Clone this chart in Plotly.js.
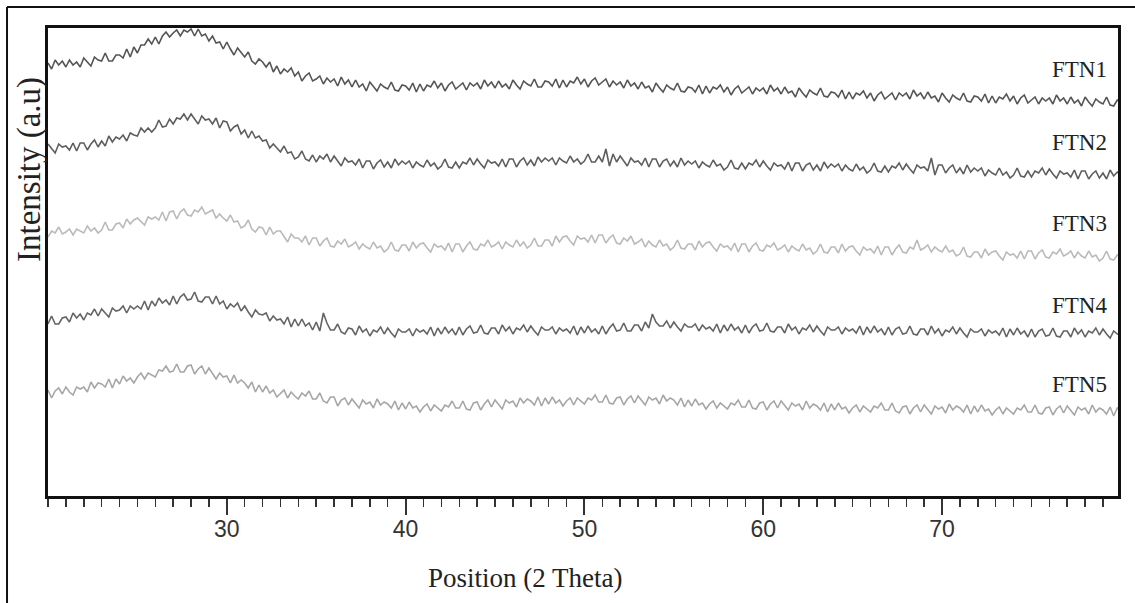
<!DOCTYPE html>
<html>
<head>
<meta charset="utf-8">
<script src="https://cdn.plot.ly/plotly-3.0.1.min.js"></script>
<style>
  html, body { margin: 0; padding: 0; background: #ffffff; }
  #chart { width: 1135px; height: 603px; }
</style>
</head>
<body>
<div id="chart"></div>
<script>
// 2-theta sampling grid (degrees)
const thetaStart = 20;
const thetaStep = 0.2;

const seriesNames = ["FTN1", "FTN2", "FTN3", "FTN4", "FTN5"];
const seriesColors = ["#555555", "#5e5e5e", "#bababa", "#646464", "#a6a6a6"];
const tickValues = [30, 40, 50, 60, 70];

// Intensity (a.u., stacked offsets); one row per degree (x.0, x.2, x.4, x.6, x.8)
const ftn1 = [
433,427,436,431,435, 429,436,431,434,429, 438,434,430,439,436, 435,443,435,435,441,
441,438,447,439,449, 443,451,451,457,452, 459,452,460,464,459, 463,466,460,466,464,
467,460,467,460,462, 455,460,453,454,447, 454,447,441,448,443, 439,444,435,432,437,
434,429,434,424,430, 422,427,424,428,420, 424,415,420,423,415, 417,420,412,418,414,
417,410,419,412,416, 409,416,409,412,405, 414,409,405,412,409, 407,414,406,405,411,
410,406,413,404,412, 405,411,409,415,408, 413,405,411,414,407, 410,413,406,413,410,
413,407,416,410,414, 408,415,409,412,407, 416,411,407,415,412, 410,417,409,409,415,
414,410,417,408,416, 409,415,413,419,412, 417,409,415,418,411, 414,417,409,415,411,
414,408,416,410,413, 407,414,408,410,404, 413,408,404,411,408, 406,413,405,404,409,
408,404,411,402,410, 403,409,407,411,404, 409,401,407,410,403, 406,409,402,408,405,
408,402,411,405,408, 402,409,403,405,399, 408,403,399,406,403, 401,408,400,399,404,
403,399,406,397,404, 397,403,401,405,398, 403,395,401,404,397, 400,403,396,403,400,
403,397,406,400,403, 397,404,398,400,394, 403,398,394,401,398, 396,403,395,394,400,
399,395,402,393,400, 393,399,397,402,395, 400,392,398,401,393, 396,399,392,398,395,
398,392,401,395,398, 392,399,393,396,390, 399,394,390,397,394, 392,399,391,390,396,
394];
const ftn2 = [
352,347,343,352,349, 350,346,353,345,353, 353,346,352,356,349, 355,350,360,354,359,
357,361,355,363,361, 360,368,364,368,364, 368,376,369,370,377, 372,378,377,382,376,
382,377,372,380,376, 377,372,378,368,375, 374,365,369,371,362, 366,358,365,358,360,
355,356,348,352,348, 344,350,343,344,337, 339,345,337,335,341, 334,340,337,342,334,
340,335,330,338,334, 335,331,337,328,335, 335,327,333,336,329, 334,328,337,331,335,
332,335,328,334,331, 329,336,330,333,327, 330,337,329,328,334, 328,334,332,338,331,
337,332,328,336,333, 334,330,337,329,337, 337,329,335,338,331, 336,330,339,334,338,
335,338,331,338,335, 333,340,334,337,332, 335,342,334,334,340, 334,347,330,342,334,
340,335,330,338,334, 335,331,338,329,337, 337,329,335,337,330, 335,329,338,331,335,
332,335,328,334,331, 329,336,330,332,326, 329,336,328,327,333, 327,333,331,336,329,
335,330,326,333,330, 331,327,334,325,333, 333,325,331,333,326, 331,325,334,328,332,
329,332,325,331,327, 325,332,326,329,323, 326,333,325,324,330, 324,330,328,333,326,
332,327,323,331,328, 329,325,338,321,331, 331,323,328,331,323, 328,322,331,324,328,
325,328,320,326,323, 321,328,321,324,318, 321,328,320,319,325, 319,325,323,328,321,
327,322,318,325,322, 323,319,326,317,325, 325,317,322,325,318, 323,317,326,320,324,
321];
const ftn3 = [
259,265,263,269,262, 264,267,261,267,265, 263,270,265,268,263, 266,274,266,266,272,
273,268,277,272,276, 278,274,271,279,277, 279,276,284,275,284, 285,277,284,287,281,
280,286,284,289,282, 284,286,278,282,278, 275,281,274,275,268, 270,276,267,264,269,
268,261,269,262,265, 265,259,254,262,258, 258,254,260,251,258, 258,250,255,258,250,
249,255,252,257,249, 251,254,247,252,249, 247,254,248,250,244, 247,254,246,245,251,
251,245,254,248,252, 253,248,244,252,249, 250,246,253,244,252, 252,244,250,254,247,
246,252,250,256,249, 251,254,247,254,251, 249,256,250,254,248, 251,258,250,250,256,
256,250,260,254,259, 260,255,251,260,257, 258,254,261,253,261, 261,253,258,261,253,
252,258,255,260,252, 254,257,249,255,251, 249,256,250,252,246, 249,256,248,247,252,
252,246,255,249,253, 254,249,245,252,249, 250,246,253,244,252, 252,244,250,253,246,
245,251,249,253,246, 248,251,244,250,247, 245,252,246,248,242, 245,252,244,243,249,
249,243,252,245,249, 250,245,241,249,246, 247,243,250,241,249, 249,241,247,251,244,
243,249,247,256,246, 248,251,244,249,246, 244,250,244,246,240, 242,249,240,239,244,
244,238,247,241,244, 245,240,236,244,241, 242,238,245,237,245, 245,237,243,246,239,
238,244,242,247,240, 242,245,238,244,240, 238,245,239,241,235, 238,245,237,236,241,
239];
const ftn4 = [
172,180,172,172,178, 179,174,183,178,182, 176,183,181,187,180, 187,183,179,188,185,
186,190,183,190,187, 190,187,195,186,195, 190,198,193,196,191, 200,192,199,202,196,
197,204,195,194,199, 199,192,200,192,195, 187,192,189,193,185, 190,184,179,186,182,
181,183,175,180,176, 177,172,179,169,177, 170,177,170,173,166, 174,165,183,173,166,
166,172,164,162,168, 167,161,170,164,167, 160,166,164,169,162, 168,163,159,167,164,
164,167,160,167,164, 166,162,169,160,168, 162,169,163,167,161, 169,161,167,170,163,
164,171,163,162,168, 168,162,171,165,169, 162,168,166,171,164, 170,165,161,169,166,
166,169,162,168,165, 167,163,170,161,169, 163,170,164,167,162, 170,162,168,172,165,
166,173,165,165,171, 171,165,174,168,182, 174,170,170,175,168, 174,169,165,172,169,
169,172,165,171,167, 169,165,172,163,171, 165,172,166,169,163, 171,163,169,172,165,
166,173,165,164,169, 169,163,172,166,169, 162,168,166,171,164, 170,165,161,169,166,
166,169,162,168,165, 167,163,170,161,169, 163,170,164,167,161, 169,161,167,169,162,
163,170,162,161,167, 167,161,170,163,167, 160,166,164,169,162, 168,163,159,167,164,
164,167,160,166,163, 165,161,168,159,167, 161,168,162,165,159, 167,159,165,167,160,
161,168,160,159,165, 165,159,168,162,166, 159,165,163,168,161, 167,162,158,165,162,
162];
const ftn5 = [
106,98,105,108,102, 109,104,101,109,107, 109,104,114,108,113, 112,109,117,108,117,
112,120,115,118,113, 119,123,117,123,121, 119,126,125,130,124, 125,132,124,124,130,
131,122,127,130,122, 128,122,117,123,119, 120,113,121,113,116, 113,108,114,104,111,
104,110,103,106,99, 103,106,98,104,100, 97,103,100,105,97, 97,103,95,93,99,
99,90,96,98,91, 97,92,88,96,92, 94,88,97,91,94, 92,88,95,86,93,
87,94,88,90,84, 89,92,85,91,88, 85,91,89,95,88, 88,95,87,86,93,
94,86,92,96,89, 96,91,87,96,93, 95,89,98,93,97, 95,91,99,90,98,
92,99,93,96,90, 95,98,91,98,95, 92,98,96,101,94, 94,101,93,92,98,
99,91,97,100,93, 100,95,91,99,96, 98,92,101,95,98, 96,91,98,89,96,
90,97,91,93,87, 92,95,88,93,90, 87,93,91,96,89, 89,96,88,87,93,
94,86,92,95,88, 95,90,86,93,90, 92,86,95,88,92, 90,86,93,84,92,
86,93,87,89,83, 88,91,84,90,87, 84,90,88,93,86, 86,93,85,83,89,
90,82,88,91,84, 91,86,82,90,87, 89,83,92,86,90, 88,84,91,82,90,
84,91,85,87,81, 86,89,82,88,85, 82,88,86,91,84, 84,91,83,82,88,
89,81,87,90,83, 90,85,81,89,86, 88,82,91,84,88, 86,82,89,80,88,
85];

const seriesValues = [ftn1, ftn2, ftn3, ftn4, ftn5];
const labelOffsets = [0.9103, 0.7564, 0.5833, 0.4060, 0.2372]; // paper y of the right-hand labels

const traces = seriesValues.map((vals, k) => ({
  type: "scatter",
  mode: "lines",
  name: seriesNames[k],
  x: vals.map((_, i) => thetaStart + i * thetaStep),
  y: vals,
  line: { color: seriesColors[k], width: 1.6 },
  hoverinfo: "skip"
}));

const annotations = seriesNames.map((nm, k) => ({
  xref: "paper", yref: "paper",
  x: 0.9364, y: labelOffsets[k],
  xanchor: "left", yanchor: "middle",
  text: nm, showarrow: false,
  font: { family: "Liberation Serif, Times New Roman, serif", size: 23, color: "#222222" }
}));
annotations.push({
  xref: "paper", yref: "paper", x: 0.4458, y: -0.1752,
  xanchor: "center", yanchor: "middle", showarrow: false,
  text: "Position (2 Theta)",
  font: { family: "Liberation Serif, Times New Roman, serif", size: 27, color: "#222222" }
});
annotations.push({
  xref: "paper", yref: "paper", x: -0.0168, y: 0.6966,
  xanchor: "center", yanchor: "middle", showarrow: false, textangle: -90,
  text: "Intensity (a.u)",
  font: { family: "Liberation Serif, Times New Roman, serif", size: 33, color: "#222222" }
});

const layout = {
  width: 1135, height: 603,
  margin: { l: 48, r: 17, t: 28, b: 107, pad: 0 },
  paper_bgcolor: "#ffffff", plot_bgcolor: "#ffffff",
  showlegend: false,
  xaxis: {
    range: [20, 79.84],
    showgrid: false, zeroline: false,
    showline: true, linecolor: "#111111", linewidth: 3, mirror: true,
    tickmode: "array", tickvals: tickValues, ticktext: tickValues.map(String),
    ticks: "outside", ticklen: 16, tickwidth: 2, tickcolor: "#333333",
    ticklabelstandoff: -6,
    minor: { tickmode: "linear", dtick: 1, tick0: 20, ticks: "outside", ticklen: 8, tickwidth: 1.5, tickcolor: "#333333", showgrid: false },
    tickfont: { family: "Liberation Sans Narrow, Liberation Sans, Arial, sans-serif", size: 23, color: "#333333" }
  },
  yaxis: {
    range: [0, 468],
    showgrid: false, zeroline: false,
    showline: true, linecolor: "#111111", linewidth: 3, mirror: true,
    ticks: "", showticklabels: false
  },
  annotations: annotations,
  shapes: [
    { type: "line", xref: "paper", yref: "paper", x0: -0.0383, x1: -0.0383, y0: 1.0449, y1: -0.2286,
      line: { color: "#111111", width: 2 } },
    { type: "line", xref: "paper", yref: "paper", x0: -0.0383, x1: 1.02, y0: 1.0449, y1: 1.0449,
      line: { color: "#111111", width: 2 } }
  ]
};

Plotly.newPlot("chart", traces, layout, { staticPlot: true, displayModeBar: false });
</script>
</body>
</html>
